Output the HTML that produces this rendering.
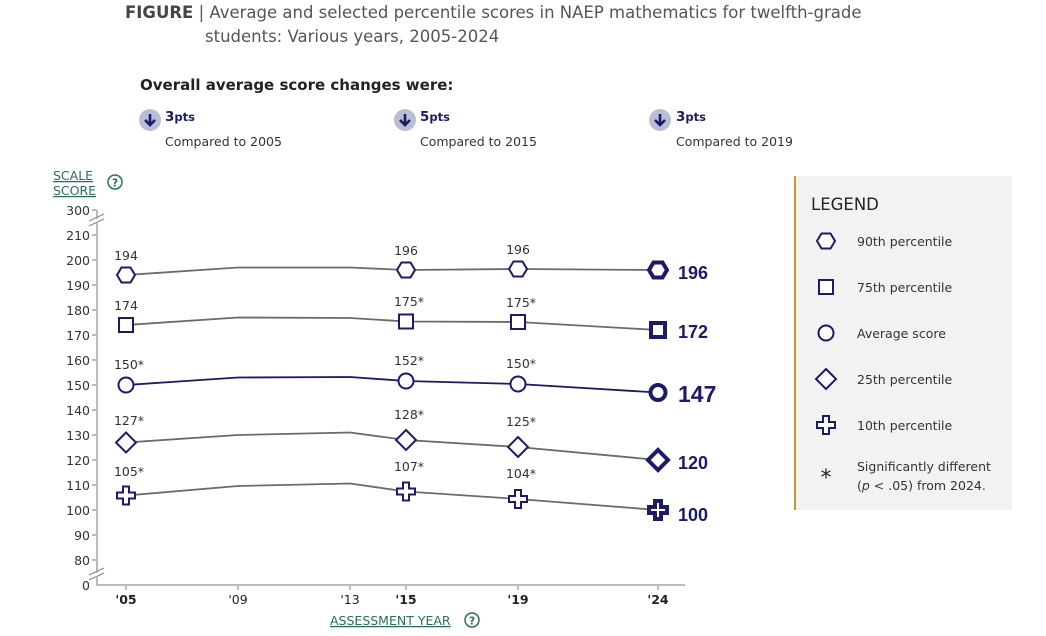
<!DOCTYPE html>
<html><head><meta charset="utf-8"><style>
html,body{margin:0;padding:0;background:#fff;}
svg{display:block;font-family:"DejaVu Sans","Liberation Sans",sans-serif;}
</style></head><body>
<svg width="1046" height="636" viewBox="0 0 1046 636" xmlns="http://www.w3.org/2000/svg">
<defs>
<path id="hex" d="M-9,0L-4.5,-7.5H4.5L9,0L4.5,7.5H-4.5Z"/>
<rect id="sq" x="-7" y="-7" width="14" height="14"/>
<circle id="ci" r="7.5"/>
<path id="di" d="M0,-10L10,0L0,10L-10,0Z"/>
<path id="cr" d="M-3,-9h6v6h6v6h-6v6h-6v-6h-6v-6h6z"/>
</defs>
<text x="125" y="18" font-size="16.5" fill="#555"><tspan font-weight="bold" fill="#444">FIGURE</tspan> | Average and selected percentile scores in NAEP mathematics for twelfth-grade</text>
<text x="205" y="42" font-size="16.5" fill="#555">students: Various years, 2005-2024</text>
<text x="140" y="90" font-size="15" font-weight="bold" fill="#222">Overall average score changes were:</text>
<g font-size="12.5" fill="#333">
<g transform="translate(150,120)"><circle r="11" fill="#b9bed2"/><path d="M0,-6V5M-5,0L0,5L5,0" stroke="#1c1a6b" stroke-width="2.6" fill="none"/></g>
<text x="165" y="121" font-weight="bold" fill="#1c1a6b" font-size="13.5">3<tspan font-size="11.5">pts</tspan></text>
<text x="165" y="146">Compared to 2005</text>
<g transform="translate(405,120)"><circle r="11" fill="#b9bed2"/><path d="M0,-6V5M-5,0L0,5L5,0" stroke="#1c1a6b" stroke-width="2.6" fill="none"/></g>
<text x="420" y="121" font-weight="bold" fill="#1c1a6b" font-size="13.5">5<tspan font-size="11.5">pts</tspan></text>
<text x="420" y="146">Compared to 2015</text>
<g transform="translate(660,120)"><circle r="11" fill="#b9bed2"/><path d="M0,-6V5M-5,0L0,5L5,0" stroke="#1c1a6b" stroke-width="2.6" fill="none"/></g>
<text x="676" y="121" font-weight="bold" fill="#1c1a6b" font-size="13.5">3<tspan font-size="11.5">pts</tspan></text>
<text x="676" y="146">Compared to 2019</text>
</g>
<g fill="#2a6e5e" font-size="12.5">
<text x="53" y="180" text-decoration="underline">SCALE</text>
<text x="53" y="195" text-decoration="underline">SCORE</text>
<circle cx="115" cy="182" r="7" fill="none" stroke="#2a6e5e" stroke-width="1.5"/>
<text x="115" y="186.5" font-size="10.5" text-anchor="middle" font-weight="bold">?</text>
<text x="330" y="625" text-decoration="underline">ASSESSMENT YEAR</text>
<circle cx="472" cy="620" r="7" fill="none" stroke="#2a6e5e" stroke-width="1.5"/>
<text x="472" y="624.5" font-size="10.5" text-anchor="middle" font-weight="bold">?</text>
</g>
<g stroke="#bbb" stroke-width="2" fill="none">
<path d="M97,210V585H685"/>
<path d="M92,210h5M92,235h5M92,260h5M92,285h5M92,310h5M92,335h5M92,360h5M92,385h5M92,410h5M92,435h5M92,460h5M92,485h5M92,510h5M92,535h5M92,560h5"/>
<path d="M126,585v5M238,585v5M350,585v5M406,585v5M518,585v5M658,585v5"/>
</g>
<rect x="93" y="219" width="8" height="4" fill="#fff" transform="rotate(-25 97 221)"/>
<rect x="93" y="573" width="8" height="4" fill="#fff" transform="rotate(-25 97 575)"/>
<g stroke="#888" stroke-width="1.2"><path d="M89,221L104,214M89,226L104,219M89,575L104,568M89,580L104,573"/></g>
<g font-size="12.5" fill="#333" text-anchor="end">
<text x="90" y="215">300</text><text x="90" y="240">210</text><text x="90" y="265">200</text><text x="90" y="290">190</text><text x="90" y="315">180</text><text x="90" y="340">170</text><text x="90" y="365">160</text><text x="90" y="390">150</text><text x="90" y="415">140</text><text x="90" y="440">130</text><text x="90" y="465">120</text><text x="90" y="490">110</text><text x="90" y="515">100</text><text x="90" y="540">90</text><text x="90" y="565">80</text><text x="90" y="590">0</text>
</g>
<g font-size="12.5" fill="#222" text-anchor="middle">
<text x="126" y="604" font-weight="bold">'05</text><text x="238" y="604">'09</text><text x="350" y="604">'13</text><text x="406" y="604" font-weight="bold">'15</text><text x="518" y="604" font-weight="bold">'19</text><text x="658" y="604" font-weight="bold">'24</text>
</g>
<g fill="none" stroke-width="1.8">
<polyline stroke="#6b6b6b" points="126,275 238,267.5 350,267.5 406,270 518,269 658,270"/>
<polyline stroke="#6b6b6b" points="126,325 238,317.5 350,318 406,321.5 518,322 658,330"/>
<polyline stroke="#1c1a6b" points="126,385 238,377.5 350,377 406,381 518,384 658,392.5"/>
<polyline stroke="#6b6b6b" points="126,442.5 238,435 350,432.5 406,440 518,447 658,460"/>
<polyline stroke="#6b6b6b" points="126,495.5 238,486 350,483.5 406,491.5 518,499 658,510"/>
</g>
<g fill="#fff" stroke="#1c1a6b" stroke-width="2">
<use href="#hex" x="126" y="275"/><use href="#hex" x="406" y="270"/><use href="#hex" x="518" y="269"/>
<use href="#sq" x="126" y="325"/><use href="#sq" x="406" y="321.5"/><use href="#sq" x="518" y="322"/>
<use href="#ci" x="126" y="385"/><use href="#ci" x="406" y="381"/><use href="#ci" x="518" y="384"/>
<use href="#di" x="126" y="442.5"/><use href="#di" x="406" y="440"/><use href="#di" x="518" y="447"/>
<use href="#cr" x="126" y="495.5"/><use href="#cr" x="406" y="491.5"/><use href="#cr" x="518" y="499"/>
</g>
<g fill="#fff" stroke="#1c1a6b" stroke-width="4">
<use href="#hex" x="658" y="270"/><use href="#sq" x="658" y="330"/><use href="#ci" x="658" y="392.5"/><use href="#di" x="658" y="460"/><use href="#cr" x="658" y="510"/>
</g>
<g font-size="12.5" fill="#333" text-anchor="middle">
<text x="126" y="260">194</text><text x="406" y="255">196</text><text x="518" y="254">196</text>
<text x="126" y="310">174</text><text x="409" y="306">175*</text><text x="521" y="307">175*</text>
<text x="129" y="369">150*</text><text x="409" y="365">152*</text><text x="521" y="368">150*</text>
<text x="129" y="425">127*</text><text x="409" y="419">128*</text><text x="521" y="426">125*</text>
<text x="129" y="476">105*</text><text x="409" y="471">107*</text><text x="521" y="478">104*</text>
</g>
<g fill="#1c1a6b" font-weight="bold" font-family="Liberation Sans, sans-serif">
<text x="678" y="279" font-size="18">196</text>
<text x="678" y="338" font-size="18">172</text>
<text x="678" y="402" font-size="23">147</text>
<text x="678" y="469" font-size="18">120</text>
<text x="678" y="521" font-size="18">100</text>
</g>
<rect x="795" y="176" width="217" height="334" fill="#f2f2f2"/>
<rect x="794" y="176" width="2" height="334" fill="#c89a2e"/>
<text x="811" y="210" font-size="16.5" fill="#222">LEGEND</text>
<g fill="#fff" stroke="#1c1a6b" stroke-width="2">
<use href="#hex" x="826" y="241"/><use href="#sq" x="826" y="287"/><use href="#ci" x="826" y="333"/><use href="#di" x="826" y="379"/><use href="#cr" x="826" y="425"/>
</g>
<g font-size="12.5" fill="#333">
<text x="857" y="246">90th percentile</text>
<text x="857" y="292">75th percentile</text>
<text x="857" y="338">Average score</text>
<text x="857" y="384">25th percentile</text>
<text x="857" y="430">10th percentile</text>
<text x="857" y="471">Significantly different</text>
<text x="857" y="490">(<tspan font-style="italic">p</tspan> &lt; .05) from 2024.</text>
<text x="826" y="485" font-size="22" text-anchor="middle" fill="#222">*</text>
</g>
</svg>
</body></html>
